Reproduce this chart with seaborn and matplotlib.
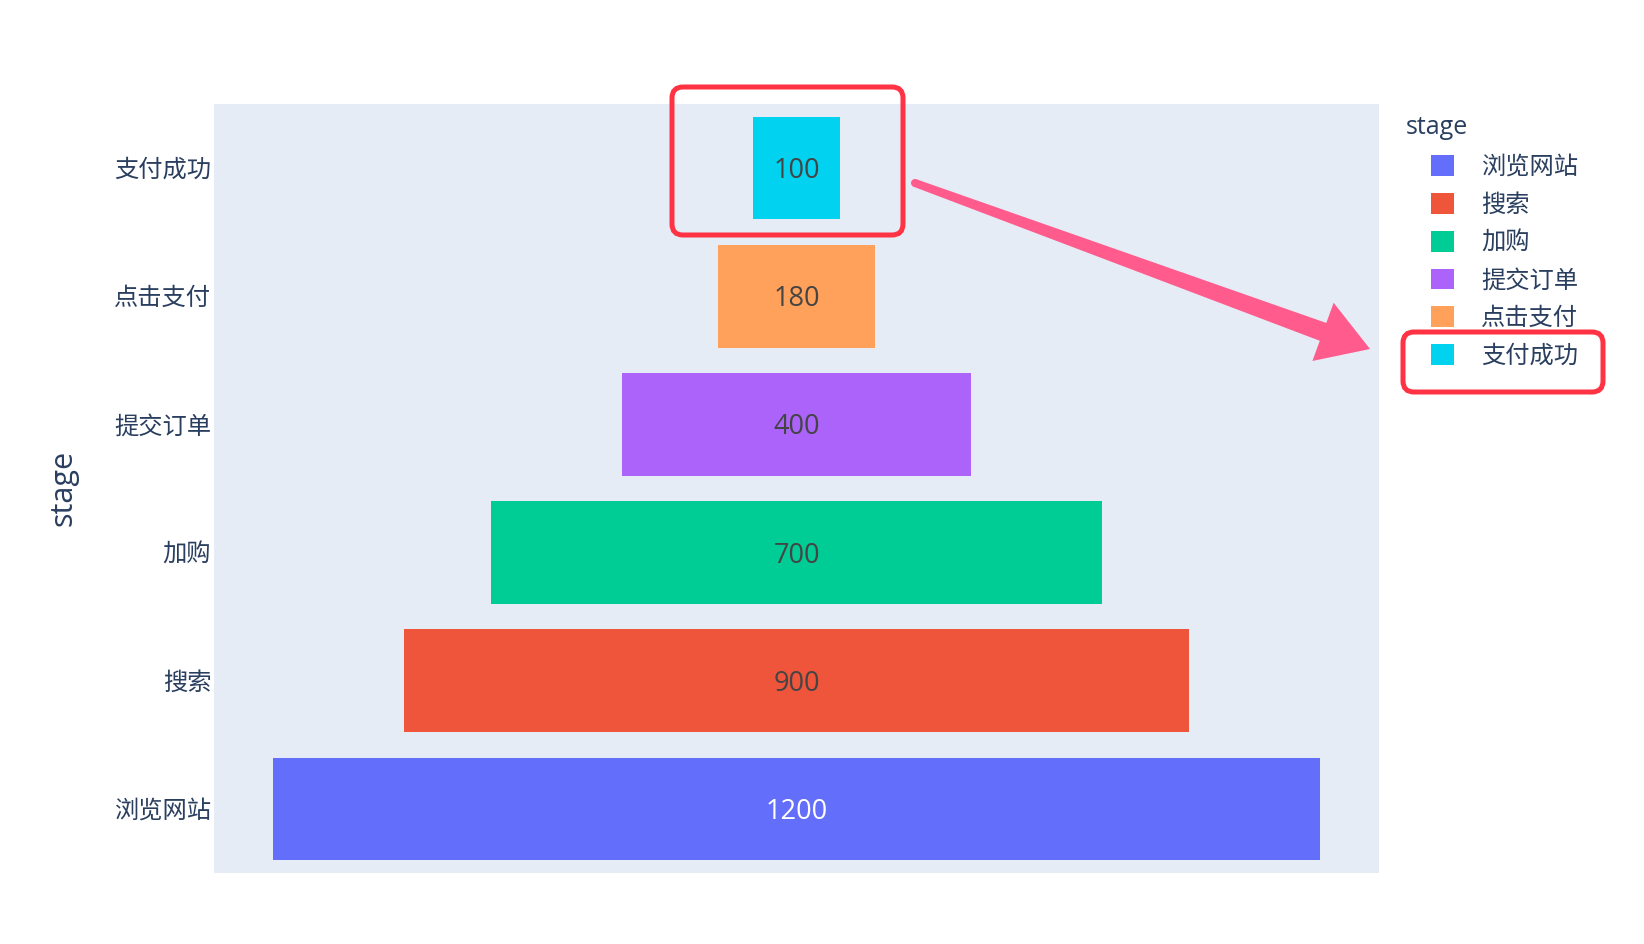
import numpy as np
import pandas as pd
import seaborn as sns
import matplotlib
matplotlib.use("Agg")
import matplotlib.pyplot as plt
from matplotlib.patches import FancyBboxPatch, Polygon, Circle, Patch
from matplotlib.transforms import IdentityTransform
from matplotlib.colors import to_rgb

# ---- data ----
stages = ['浏览网站', '搜索', '加购', '提交订单', '点击支付', '支付成功']
values = [1200, 900, 700, 400, 180, 100]
colors = ['#636EFA', '#EF553B', '#00CC96', '#AB63FA', '#FFA15A', '#00D2F0']

W, H, DPI = 1644, 944, 100
TXT = '#2a3f5f'

sns.set_theme(style="white")
plt.rcParams['font.family'] = ['Open Sans', 'Noto Sans CJK SC', 'DejaVu Sans']

df = pd.DataFrame({'stage': stages, 'value': values})
palette = dict(zip(stages, colors))

fig = plt.figure(figsize=(W / DPI, H / DPI), dpi=DPI)
L, R, T, B = 214, 1379, 104, 873
ax = fig.add_axes([L / W, 1 - B / H, (R - L) / W, (B - T) / H])
ax.set_facecolor('#E5ECF6')

order = stages[::-1]
sns.barplot(data=df, x='value', y='stage', hue='stage', order=order,
            hue_order=order, palette=palette, orient='h', width=0.8,
            saturation=1, legend=False, ax=ax, errorbar=None)

# center the bars to form a funnel
for p in ax.patches:
    w = p.get_width()
    p.set_x(-w / 2)
    p.set_linewidth(0)

ax.set_xlim(-667, 667)
ax.set_ylim(5.5, -0.5)

def text_color(c):
    r, g, b = [v * 255 for v in to_rgb(c)]
    return '#444444' if (r * 299 + g * 587 + b * 114) / 1000 > 128 else 'white'

for i, s in enumerate(order):
    v = values[stages.index(s)]
    ax.annotate(str(v), xy=(0, i), xytext=(0, -2.2), textcoords='offset points',
                ha='center', va='center', fontsize=19.5,
                color=text_color(palette[s]))

for sp in ax.spines.values():
    sp.set_visible(False)
ax.set_xticks([])
ax.set_xlabel('')
ax.tick_params(axis='y', length=0, pad=2, labelsize=17.5, labelcolor=TXT)
ax.set_ylabel('')
fig.text(63 / W, 1 - 488 / H, 'stage', rotation=90, ha='center', va='center',
         fontsize=22, color=TXT)

# legend
handles = [Patch(facecolor=palette[s], edgecolor='none', label=s) for s in stages]
leg = ax.legend(handles=handles, loc='upper left',
                bbox_to_anchor=(1431 / W, 1 - 155 / H), bbox_transform=fig.transFigure,
                frameon=False, fontsize=17.5, handlelength=0.95, handleheight=0.95,
                handletextpad=1.12, labelspacing=0.535, borderaxespad=0, borderpad=0)
for t in leg.get_texts():
    t.set_color(TXT)
fig.text(1406 / W, 1 - 127 / H, 'stage', ha='left', va='center', fontsize=18, color=TXT)

# annotations (pixel coordinates, y from top)
def P(x, y):
    return (x, H - y)

red = '#FF3344'
for (x0, y0, x1, y1) in [(672, 87, 903, 235), (1403, 332, 1603, 392)]:
    bx = FancyBboxPatch((x0, H - y1), x1 - x0, y1 - y0,
                        boxstyle='round,pad=0,rounding_size=11',
                        fill=False, edgecolor=red, linewidth=3.6,
                        transform=IdentityTransform())
    fig.add_artist(bx)

pink = '#FF5C8D'
p0 = np.array([915.0, 183.0])
tip = np.array([1370.0, 349.0])
u = (tip - p0) / np.linalg.norm(tip - p0)
n = np.array([-u[1], u[0]])
base = tip - u * 50
pts = [p0 + n * 4, base + n * 9.5, base + n * 31, tip, base - n * 31,
       base - n * 9.5, p0 - n * 4]
poly = Polygon([P(*q) for q in pts], closed=True, facecolor=pink,
               edgecolor='none', transform=IdentityTransform())
fig.add_artist(poly)
fig.add_artist(Circle(P(*p0), 4, facecolor=pink, edgecolor='none',
                      transform=IdentityTransform()))

fig.savefig('out.png', dpi=DPI, facecolor='white')
